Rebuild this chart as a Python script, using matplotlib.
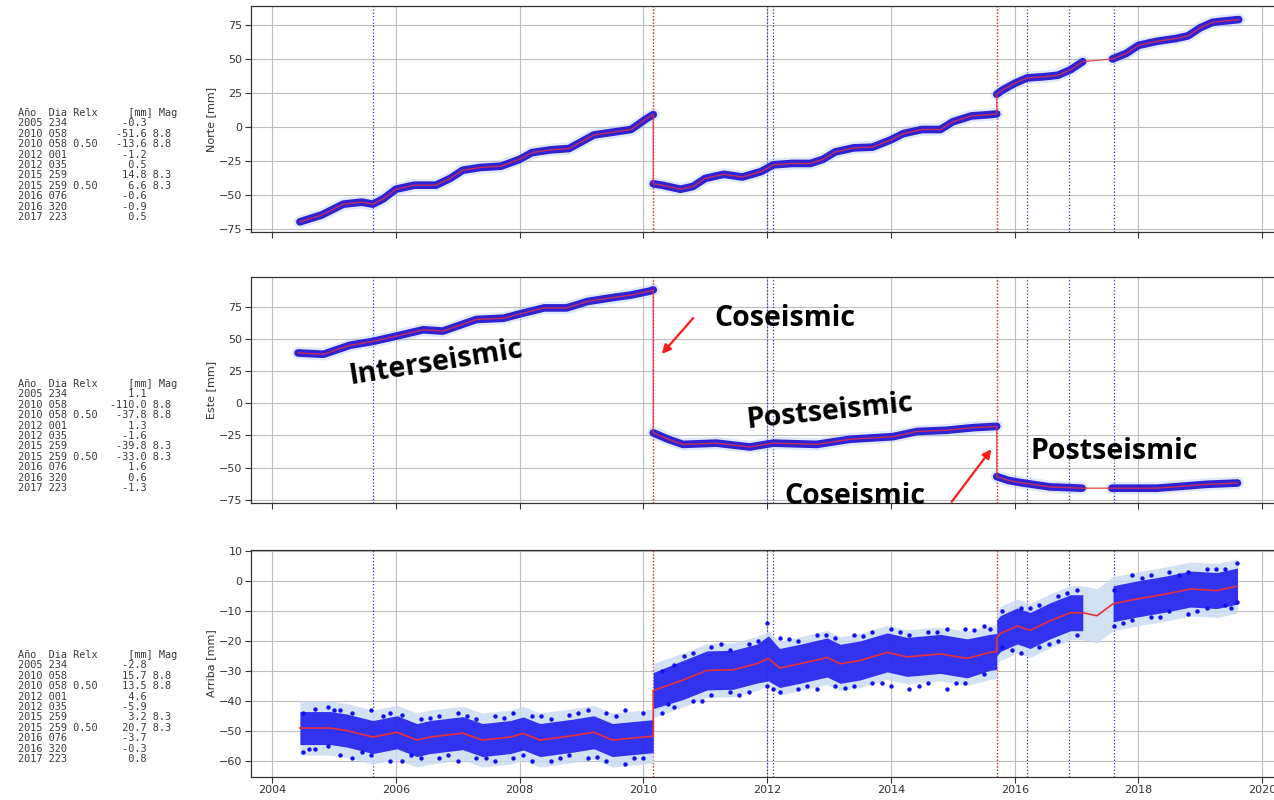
import numpy as np
import matplotlib
matplotlib.use('Agg')
import matplotlib.pyplot as plt

# ---------------- data ----------------
event_years = ['2005', '2010', '2010', '2012', '2012', '2015', '2015', '2016', '2016', '2017']
event_days = ['234', '058', '058', '001', '035', '259', '259', '076', '320', '223']
event_relx = ['', '', '0.50', '', '', '', '0.50', '', '', '']
event_mag = ['', '8.8', '8.8', '', '', '8.3', '8.3', '', '', '']
norte_amp = ['-0.3', '-51.6', '-13.6', '-1.2', '0.5', '14.8', '6.6', '-0.6', '-0.9', '0.5']
este_amp = ['1.1', '-110.0', '-37.8', '1.3', '-1.6', '-39.8', '-33.0', '1.6', '0.6', '-1.3']
arriba_amp = ['-2.8', '15.7', '13.5', '4.6', '-5.9', '3.2', '20.7', '-3.7', '-0.3', '0.8']

data_gap = [2017.12, 2017.56]

nor_t = [2004.45, 2004.8, 2005.15, 2005.45, 2005.63, 2005.8, 2006.0, 2006.3, 2006.65, 2006.88,
         2007.08, 2007.36, 2007.7, 2008.0, 2008.2, 2008.5, 2008.8, 2009.0, 2009.2, 2009.5,
         2009.8, 2010.05, 2010.16, 2010.16, 2010.3, 2010.6, 2010.8, 2011.0, 2011.3, 2011.6,
         2011.9, 2012.1, 2012.4, 2012.7, 2012.9, 2013.1, 2013.4, 2013.7, 2014.0, 2014.2,
         2014.5, 2014.8, 2015.0, 2015.3, 2015.6, 2015.71, 2015.71, 2015.8, 2016.0, 2016.2,
         2016.5, 2016.7, 2016.9, 2017.1, 2017.58, 2017.8, 2018.0, 2018.3, 2018.6, 2018.8,
         2019.0, 2019.2, 2019.4, 2019.62]
nor_v = [-70, -65, -57, -55.5, -57, -53, -46, -43, -43, -38,
         -32, -30, -29, -24, -19, -17, -16, -11, -6, -4,
         -2, 6, 9, -42, -43, -46, -44, -38, -35, -37,
         -33, -28, -27, -27, -24, -18.5, -15.5, -15, -9.6, -5,
         -2, -2, 3.7, 8, 9, 9.5, 24, 27, 32, 36,
         37, 38, 42, 48, 50, 54, 60, 63, 65, 67,
         73, 77, 78, 79]

est_t = [2004.42, 2004.83, 2005.26, 2005.63, 2006.0, 2006.44, 2006.76, 2007.3, 2007.74, 2008.06,
         2008.4, 2008.76, 2009.1, 2009.5, 2009.8, 2010.1, 2010.16, 2010.16, 2010.4, 2010.64,
         2011.18, 2011.72, 2012.1, 2012.8, 2013.34, 2014.03, 2014.42, 2014.9, 2015.33, 2015.71,
         2015.71, 2015.9, 2016.14, 2016.57, 2017.09, 2017.57, 2018.3, 2019.1, 2019.6]
est_v = [39, 38, 45, 48, 52, 57, 56, 65, 66, 70,
         74, 74, 79, 82, 84, 87, 88, -23, -28, -32,
         -31, -34, -31, -32, -28, -26, -22, -21, -19, -18,
         -57, -60, -62, -65, -66, -66, -66, -63, -62]

arr_t = [2004.45, 2004.94, 2005.2, 2005.63, 2006.02, 2006.34, 2006.55, 2007.08, 2007.4, 2007.85,
         2008.06, 2008.33, 2008.87, 2009.2, 2009.5, 2009.8, 2010.16, 2010.16, 2010.64, 2011.03,
         2011.45, 2011.84, 2012.02, 2012.2, 2012.53, 2012.97, 2013.18, 2013.5, 2013.94, 2014.26,
         2014.8, 2015.23, 2015.6, 2015.71, 2015.71, 2015.77, 2016.04, 2016.25, 2016.57, 2016.9,
         2017.1, 2017.33, 2017.59, 2017.98, 2018.46, 2018.84, 2019.27, 2019.6]
arr_v = [-49, -49, -49.8, -52, -50.4, -53, -52, -50.7, -53, -52,
         -50.8, -53, -51.5, -50.4, -53, -52.4, -51.7, -36.5, -33, -29.8,
         -29.6, -27.5, -25.8, -29, -27.6, -25.5, -27.6, -26.5, -23.8, -25.3,
         -24.3, -25.8, -23.8, -23.5, -19, -17.5, -15, -16.5, -13.3, -10.6,
         -10.6, -11.6, -7.6, -6, -4.3, -2.7, -3.2, -1.7]
# dense cloud half-width around model (mm)
arr_spread = [5.5, 5.5, 5.5, 5.5, 5.5, 5.5, 5.5, 5.5, 5.5, 5.5,
              5.5, 5.5, 5.5, 5.5, 5.5, 5.5, 5.5, 6, 6.5, 6.5,
              6.5, 6.5, 7.5, 6.5, 6.5, 6.5, 6.5, 6.5, 6.5, 6.5,
              6.5, 6.5, 6, 6, 6, 6, 6, 6, 6, 6,
              6, 6, 6, 6, 6, 6, 6, 6]
arr_band = 9.0
# scattered outlying observations (time, mm)
arr_out_t = [2004.5, 2004.5, 2004.7, 2004.7, 2004.9, 2004.9, 2005.1, 2005.1, 2005.3, 2005.3,
             2005.6, 2005.6, 2005.9, 2005.9, 2006.1, 2006.1, 2006.4, 2006.4, 2006.7, 2006.7,
             2007.0, 2007.0, 2007.3, 2007.3, 2007.6, 2007.6, 2007.9, 2007.9, 2008.2, 2008.2,
             2008.5, 2008.5, 2008.8, 2008.8, 2009.1, 2009.1, 2009.4, 2009.4, 2009.7, 2009.7,
             2010.0, 2010.0, 2010.3, 2010.3, 2010.5, 2010.5, 2010.8, 2010.8, 2011.1, 2011.1,
             2011.4, 2011.4, 2011.7, 2011.7, 2012.0, 2012.0, 2012.2, 2012.2, 2012.5, 2012.5,
             2012.8, 2012.8, 2013.1, 2013.1, 2013.4, 2013.4, 2013.7, 2013.7, 2014.0, 2014.0,
             2014.3, 2014.3, 2014.6, 2014.6, 2014.9, 2014.9, 2015.2, 2015.2, 2015.5, 2015.5,
             2015.8, 2015.8, 2016.1, 2016.1, 2016.4, 2016.4, 2016.7, 2016.7, 2017.0, 2017.0,
             2017.6, 2017.6, 2017.9, 2017.9, 2018.2, 2018.2, 2018.5, 2018.5, 2018.8, 2018.8,
             2019.1, 2019.1, 2019.4, 2019.4, 2019.6, 2019.6,
             2004.6, 2005.0, 2005.45, 2005.8, 2006.25, 2006.55, 2006.85, 2007.15, 2007.45, 2007.75,
             2008.05, 2008.35, 2008.65, 2008.95, 2009.25, 2009.55, 2009.85, 2010.4, 2010.65, 2010.95,
             2011.25, 2011.55, 2011.85, 2012.1, 2012.35, 2012.65, 2012.95, 2013.25, 2013.55, 2013.85,
             2014.15, 2014.45, 2014.75, 2015.05, 2015.35, 2015.6, 2015.95, 2016.25, 2016.55, 2016.85,
             2017.75, 2018.05, 2018.35, 2018.65, 2018.95, 2019.25, 2019.5]
arr_out_v = [-44, -57, -42.5, -56, -42, -55, -43, -58, -44, -59,
             -43, -58, -44, -60, -44.5, -60, -46, -59, -45, -59,
             -44, -60, -46, -59, -45, -60, -44, -59, -45, -60,
             -46, -60, -44.5, -58, -43, -59, -44, -60, -43, -61,
             -44, -59, -30, -44, -28, -42, -24, -40, -22, -38,
             -23, -37, -21, -37, -14, -35, -19, -37, -20, -36,
             -18, -36, -19, -35, -18, -35, -17, -34, -16, -35,
             -18, -36, -17, -34, -16, -36, -16, -34, -15, -31,
             -10, -22, -9, -24, -8, -22, -5, -20, -3, -18,
             -3, -15, 2, -13, 2, -12, 3, -10, 3, -11,
             4, -9, 4, -8, 6, -7,
             -56, -43, -57, -45, -58, -45.5, -58, -45, -59, -45.5,
             -58, -45, -59, -44, -58.5, -45, -59, -41, -25, -40,
             -21, -38, -20, -36, -19.5, -35, -18, -35.5, -18.5, -34,
             -17, -35, -17, -34, -16.5, -16, -23, -9, -21, -4,
             -14, 1, -12, 2, -10, 4, -9]

# ---------------- helpers ----------------
def doy_to_year(y, d):
    return int(y) + (int(d) - 1) / 365.25


def obs_segments(t):
    segs, cur = [], []
    for i, ti in enumerate(t):
        if data_gap[0] < ti < data_gap[1]:
            if cur:
                segs.append(cur)
                cur = []
            continue
        if cur and (ti == t[cur[-1]] or (t[cur[-1]] <= data_gap[0] and ti >= data_gap[1])):
            segs.append(cur)
            cur = []
        cur.append(i)
    if cur:
        segs.append(cur)
    return segs


def table_text(amps):
    lines = ['Año  Dia Relx     [mm] Mag']
    for y, d, r, a, m in zip(event_years, event_days, event_relx, amps, event_mag):
        lines.append((f'{y} {d} {r:4s}{a:>8s} {m}').rstrip())
    return '\n'.join(lines)


# ---------------- figure ----------------
W, H = 1274, 800
fig = plt.figure(figsize=(W / 100, H / 100), dpi=100)


def px_axes(x0, y0, x1, y1):
    return fig.add_axes([x0 / W, 1 - y1 / H, (x1 - x0) / W, (y1 - y0) / H])


ax1 = px_axes(251, 6, 1287, 232)
ax2 = px_axes(251, 277, 1287, 503)
ax3 = px_axes(251, 550, 1287, 777)
axes = [ax1, ax2, ax3]

ev_t = [doy_to_year(y, d) for y, d in zip(event_years, event_days)]

for ax in axes:
    ax.set_xlim(2003.66, 2020.4)
    ax.grid(True, color='#bdbdbd', lw=0.8)
    ax.set_axisbelow(True)
    for s in ax.spines.values():
        s.set_color('#333333')
        s.set_linewidth(0.9)
    ax.tick_params(labelsize=8, colors='#333333', length=4, pad=2)
    ax.set_xticks(np.arange(2004, 2021, 2))
    for t, m in zip(ev_t, event_mag):
        ax.axvline(t, color='#d33' if m else '#3333cc', ls=':', lw=0.9, zorder=1)

ax1.set_xticklabels([])
ax2.set_xticklabels([])

BLUE = '#2e22d4'
RED = '#e8303a'


def draw_smooth(ax, t, v):
    t = np.asarray(t)
    v = np.asarray(v, dtype=float)
    for seg in obs_segments(list(t)):
        ax.plot(t[seg], v[seg], color='#a9c0ee', lw=9, alpha=0.35, solid_capstyle='round',
                solid_joinstyle='round', zorder=2)
        ax.plot(t[seg], v[seg], color=BLUE, lw=5.5, solid_capstyle='round',
                solid_joinstyle='round', zorder=3)
    ax.plot(t, v, color=RED, lw=1.0, alpha=0.8, zorder=4)


draw_smooth(ax1, nor_t, nor_v)
ax1.set_ylim(-77.5, 89)
ax1.set_yticks([-75, -50, -25, 0, 25, 50, 75])
ax1.set_ylabel('Norte [mm]', fontsize=8, color='#333333', labelpad=2)

draw_smooth(ax2, est_t, est_v)
ax2.set_ylim(-77.5, 98)
ax2.set_yticks([-75, -50, -25, 0, 25, 50, 75])
ax2.set_ylabel('Este [mm]', fontsize=8, color='#333333', labelpad=2)

# Arriba
at = np.asarray(arr_t)
av = np.asarray(arr_v, dtype=float)
asp = np.asarray(arr_spread, dtype=float)
ax3.fill_between(at, av - arr_band, av + arr_band, color='#c9daf2', alpha=0.8, lw=0, zorder=2)
for seg in obs_segments(arr_t):
    ax3.fill_between(at[seg], av[seg] - asp[seg], av[seg] + asp[seg], color='#1414ee', lw=0,
                     alpha=0.85, zorder=3)
ax3.scatter(arr_out_t, arr_out_v, s=10, color='#1010f0', lw=0, zorder=3)
ax3.plot(at, av, color=RED, lw=1.2, zorder=4)
ax3.set_ylim(-65.3, 10.3)
ax3.set_yticks([-60, -50, -40, -30, -20, -10, 0, 10])
ax3.set_ylabel('Arriba [mm]', fontsize=8, color='#333333', labelpad=2)

# tables
for txt, ytop in [(table_text(norte_amp), 108), (table_text(este_amp), 379), (table_text(arriba_amp), 650)]:
    fig.text(18 / W, 1 - ytop / H, txt, va='top', ha='left', family='DejaVu Sans Mono',
             fontsize=7.4, linespacing=1.05, color='#3a3a3a')

# annotations
afont = dict(family='Open Sans', weight='bold', fontsize=20.5, color='black', ha='center', va='center')
fig.text(436 / W, 1 - 363 / H, 'Interseismic', rotation=9, **afont)
fig.text(785 / W, 1 - 319 / H, 'Coseismic', **afont)
fig.text(830 / W, 1 - 412 / H, 'Postseismic', rotation=6, **afont)
fig.text(855 / W, 1 - 497 / H, 'Coseismic', **afont)
fig.text(1114 / W, 1 - 452 / H, 'Postseismic', **afont)

arrow = dict(arrowstyle='-|>', color='#ff1a1a', lw=1.6, mutation_scale=13)
fig.add_artist(matplotlib.patches.FancyArrowPatch((695, H - 316), (660, H - 356),
                                                  transform=None, **arrow))
fig.add_artist(matplotlib.patches.FancyArrowPatch((950, H - 504), (993, H - 447),
                                                  transform=None, **arrow))

fig.savefig('out.png', dpi=100)
